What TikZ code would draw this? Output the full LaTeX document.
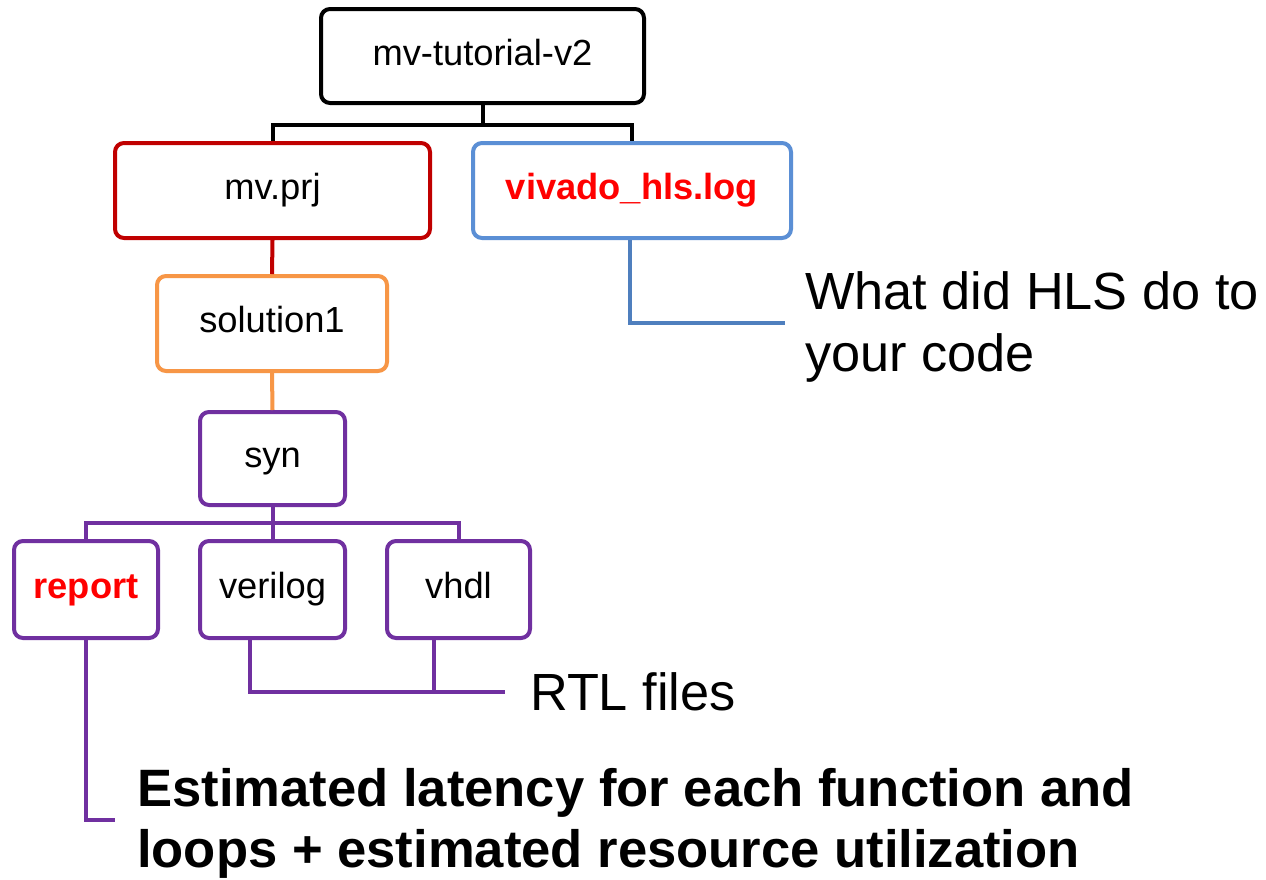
\documentclass[tikz,border=0pt]{standalone}
\usepackage{fontspec}
\setmainfont{Liberation Sans}
\definecolor{rootline}{HTML}{000000}
\definecolor{prjred}{HTML}{C00000}
\definecolor{logblue}{HTML}{5B8FD5}
\definecolor{logline}{HTML}{4F7FBE}
\definecolor{solorange}{HTML}{F79646}
\definecolor{synpurple}{HTML}{7030A0}
\definecolor{hotred}{HTML}{FF0000}
\begin{document}
\begin{tikzpicture}[x=1pt,y=-1pt,
  folder/.style={draw, line width=4pt, rounded corners=9pt, fill=white,
    inner sep=0pt, font=\fontsize{36.3}{40}\selectfont,
    text height=26pt, text depth=8pt},
  wire/.style={line width=4pt},
  note/.style={font=\fontsize{52.3}{62}\selectfont, inner sep=0pt, align=left, anchor=north west},
  boldnote/.style={note, font=\fontsize{52.6}{61}\selectfont\bfseries}]
\fill[white] (0,0) rectangle (1266,879);
\useasboundingbox (0,0) rectangle (1266,879);

% folder boxes
\node[folder, draw=black, minimum width=323pt, minimum height=94pt] (root) at (482.5,56) {mv-tutorial-v2};
\node[folder, draw=prjred, minimum width=315pt, minimum height=95pt] (prj) at (272.5,190.5) {mv.prj};
\node[folder, draw=logblue, minimum width=318pt, minimum height=95pt, text=hotred, font=\fontsize{36.3}{40}\selectfont\bfseries] (log) at (632,190.5) {vivado\_hls.log};
\node[folder, draw=solorange, minimum width=230pt, minimum height=95pt] (sol) at (272,323.5) {solution1};
\node[folder, draw=synpurple, minimum width=145pt, minimum height=93pt] (syn) at (272.5,458.5) {syn};
\node[folder, draw=synpurple, minimum width=144pt, minimum height=97pt, text=hotred, font=\fontsize{36.3}{40}\selectfont\bfseries] (report) at (86,589.5) {report};
\node[folder, draw=synpurple, minimum width=145pt, minimum height=97pt] (verilog) at (272.5,589.5) {verilog};
\node[folder, draw=synpurple, minimum width=143pt, minimum height=97pt] (vhdl) at (458.5,589.5) {vhdl};

% junction points
\coordinate (rootbus) at (482.5,125);
\coordinate (synbus) at (272.5,523);
\coordinate (logend) at (785,323);
\coordinate (rtlend) at (505,692);
\coordinate (repend) at (115,820);

% tree connectors
\draw[wire, black] (root.south) -- (rootbus);
\draw[wire, black] (prj.north) |- (rootbus) -| (log.north);
\draw[wire, prjred] (prj.south) -- (sol.north);
\draw[wire, solorange] (sol.south) -- (syn.north);
\draw[wire, synpurple] (syn.south) -- (synbus);
\draw[wire, synpurple] (report.north) |- (synbus) -| (vhdl.north);
\draw[wire, synpurple] (synbus) -- (verilog.north);

% annotation leaders
\draw[wire, logline] ([xshift=-2pt]log.south) |- (logend);
\draw[wire, synpurple] ([xshift=-22.5pt]verilog.south) |- (rtlend);
\draw[wire, synpurple] ([xshift=-24.5pt]vhdl.south) -- ([xshift=-24.5pt]vhdl.south |- rtlend);
\draw[wire, synpurple] (report.south) |- (repend);

% annotations
\node[note] (whatnote) at (805,271) {What did HLS do to\\your code};
\node[note, anchor=base west] (rtlnote) at (530,710) {RTL files};
\node[boldnote] (estnote) at (137,768) {Estimated latency for each function and\\loops + estimated resource utilization};
\end{tikzpicture}
\end{document}
